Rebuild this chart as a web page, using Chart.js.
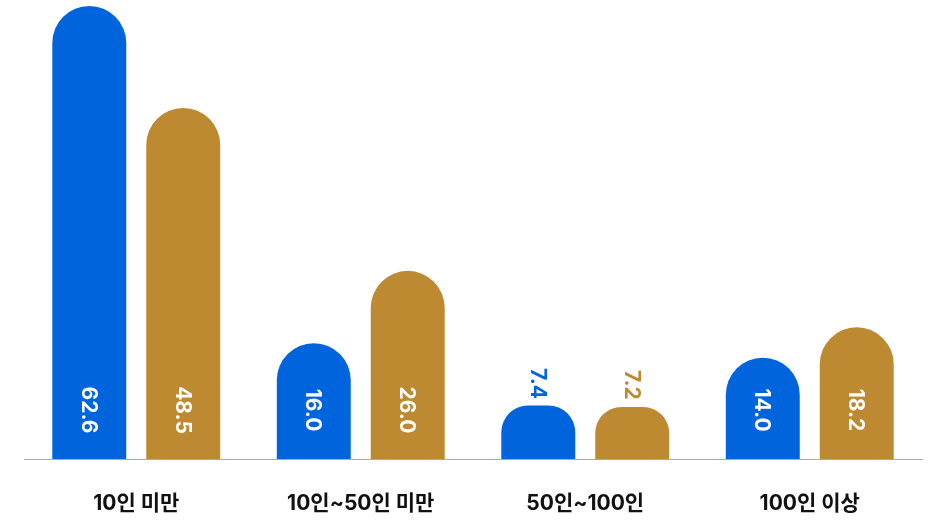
<!DOCTYPE html>
<html lang="ko">
<head>
<meta charset="utf-8">
<title>규모별 비율</title>
<script src="https://cdn.jsdelivr.net/npm/chart.js@4.4.1/dist/chart.umd.min.js"></script>
<style>
  html, body { margin: 0; padding: 0; background: #ffffff; }
  #wrap { width: 936px; height: 523px; position: relative; }
</style>
</head>
<body>
<div id="wrap"><canvas id="sizeChart"></canvas></div>
<script>
/* ===========================
   DATA
=========================== */
const categories = ["10인 미만", "10인~50인 미만", "50인~100인", "100인 이상"];
const seriesA = [62.6, 16.0, 7.4, 14.0];
const seriesB = [48.5, 26.0, 7.2, 18.2];
const seriesNames = ["A", "B"];

const BLUE = "#0064DD";
const GOLD = "#BD8A31";
const FONT = "Inter, 'Noto Sans CJK KR', sans-serif";

/* ===========================
   VALUE LABELS (rotated)
=========================== */
const valueLabels = {
    id: "valueLabels",
    afterDatasetsDraw(chart){
        const ctx = chart.ctx;
        ctx.save();
        ctx.font = "bold 21px " + FONT;
        ctx.textAlign = "center";
        ctx.textBaseline = "middle";
        chart.data.datasets.forEach((ds, di) => {
            const meta = chart.getDatasetMeta(di);
            meta.data.forEach((bar, i) => {
                const v = ds.data[i];
                const txt = v.toFixed(1);
                let cy, color;
                if(v < 10){
                    cy = bar.y - 22;
                    color = ds.backgroundColor;
                } else {
                    cy = bar.base - 49;
                    color = "#ffffff";
                }
                ctx.save();
                ctx.translate(bar.x, cy);
                ctx.rotate(Math.PI / 2);
                ctx.fillStyle = color;
                ctx.fillText(txt, 0, 1);
                ctx.restore();
            });
        });
        ctx.restore();
    }
};

/* ===========================
   BAR CHART
=========================== */
new Chart(document.getElementById("sizeChart"), {
    type: "bar",
    data: {
        labels: categories,
        datasets: [
            {
                label: seriesNames[0],
                data: seriesA,
                backgroundColor: BLUE,
                borderRadius: { topLeft: 37, topRight: 37 },
                borderSkipped: "bottom"
            },
            {
                label: seriesNames[1],
                data: seriesB,
                backgroundColor: GOLD,
                borderRadius: { topLeft: 37, topRight: 37 },
                borderSkipped: "bottom"
            }
        ]
    },
    options: {
        responsive: true,
        maintainAspectRatio: false,
        animation: false,
        categoryPercentage: 0.837,
        barPercentage: 0.787,
        layout: {
            padding: { top: 6, bottom: 0, left: 24, right: 14 }
        },
        plugins: {
            legend: { display: false },
            tooltip: { enabled: false }
        },
        scales: {
            x: {
                grid: { display: false },
                border: { display: true, color: "#ABABAB", width: 1 },
                ticks: {
                    color: "#111111",
                    padding: 24,
                    maxRotation: 0,
                    font: { family: FONT, size: 21, weight: "bold" }
                },
                afterFit(scale){
                    scale.height = 64;
                }
            },
            y: {
                display: false,
                min: 0,
                max: 62.6
            }
        }
    },
    plugins: [valueLabels]
});
</script>
</body>
</html>
